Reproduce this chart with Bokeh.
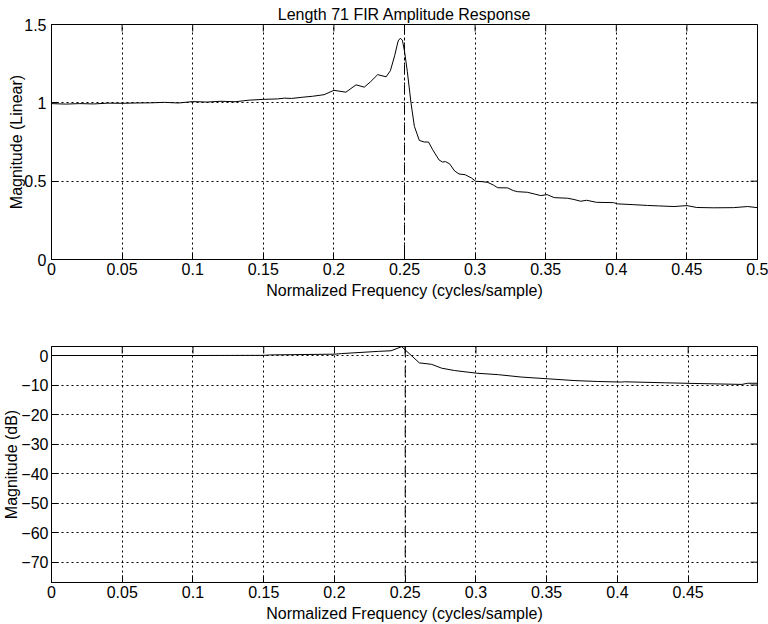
import math
from bokeh.plotting import figure
from bokeh.layouts import column
from bokeh.models import FixedTicker, Span, Range1d
from bokeh.embed import file_html
from bokeh.resources import INLINE

# ---------------- data ----------------
title_text = "Length 71 FIR Amplitude Response"
xlabel = "Normalized Frequency (cycles/sample)"
ylabel_top = "Magnitude (Linear)"
ylabel_bot = "Magnitude (dB)"

freq_lin = [0.000, 0.010, 0.020, 0.030, 0.040, 0.050, 0.060, 0.070, 0.080, 0.090,
            0.100, 0.110, 0.120, 0.130, 0.140, 0.150, 0.160, 0.165, 0.170, 0.178,
            0.185, 0.193, 0.200, 0.2085, 0.2157, 0.2215, 0.226, 0.231, 0.237, 0.240,
            0.243, 0.2455, 0.247, 0.2485, 0.250, 0.252, 0.2546, 0.257, 0.2605, 0.264,
            0.267, 0.270, 0.2745, 0.277, 0.279, 0.282, 0.2855, 0.2886, 0.293, 0.2975,
            0.3005, 0.305, 0.309, 0.313, 0.316, 0.323, 0.327, 0.330, 0.337, 0.342,
            0.3465, 0.351, 0.356, 0.3655, 0.370, 0.3748, 0.379, 0.386, 0.398, 0.401,
            0.412, 0.422, 0.430, 0.4408, 0.450, 0.457, 0.469, 0.483, 0.493, 0.500]
mag_lin = [0.995, 0.992, 0.995, 0.993, 0.998, 0.997, 0.999, 1.000, 1.003, 0.999,
           1.008, 1.005, 1.010, 1.007, 1.017, 1.022, 1.025, 1.030, 1.028, 1.036,
           1.042, 1.052, 1.080, 1.068, 1.115, 1.100, 1.135, 1.180, 1.166, 1.205,
           1.300, 1.395, 1.412, 1.400, 1.330, 1.200, 1.000, 0.850, 0.760, 0.750,
           0.750, 0.700, 0.635, 0.622, 0.625, 0.610, 0.565, 0.546, 0.541, 0.520,
           0.499, 0.497, 0.492, 0.475, 0.458, 0.457, 0.440, 0.433, 0.429, 0.418,
           0.408, 0.414, 0.395, 0.391, 0.383, 0.372, 0.378, 0.365, 0.363, 0.355,
           0.350, 0.345, 0.342, 0.338, 0.344, 0.332, 0.330, 0.331, 0.338, 0.331]

freq_db = [0.000, 0.050, 0.100, 0.150, 0.155, 0.200, 0.205, 0.231, 0.240, 0.2475,
           0.260, 0.2687, 0.2758, 0.285, 0.3005, 0.316, 0.332, 0.351, 0.370, 0.386,
           0.403, 0.405, 0.434, 0.457, 0.488, 0.492, 0.499]
mag_db = [0.00, 0.00, 0.00, 0.05, 0.20, 0.45, 0.65, 1.40, 1.60, 3.00,
          -2.5, -3.0, -4.3, -5.1, -6.0, -6.5, -7.3, -7.9, -8.5, -8.8,
          -9.0, -8.9, -9.25, -9.5, -9.8, -9.4, -9.4]

cutoff = 0.25

x_ticks = [0, 0.05, 0.1, 0.15, 0.2, 0.25, 0.3, 0.35, 0.4, 0.45, 0.5]
x_tick_labels = ["0", "0.05", "0.1", "0.15", "0.2", "0.25", "0.3", "0.35", "0.4", "0.45", "0.5"]
y_ticks_top = [0, 0.5, 1, 1.5]
y_tick_labels_top = ["0", "0.5", "1", "1.5"]
y_ticks_bot = [0, -10, -20, -30, -40, -50, -60, -70]
y_tick_labels_bot = ["0", "\u221210", "\u221220", "\u221230", "\u221240", "\u221250", "\u221260", "\u221270"]

x_range_top = (0, 0.5)
y_range_top = (0, 1.5)
x_range_bot = (0, 0.499)
y_range_bot = (-76.9, 3.05)

FONT = "Liberation Sans"
FS = "16px"
TICK = 7


def style(p, xr, yr, xt, xtl, yt, ytl, ylab, ylab_standoff, ylbl_standoff):
    xtick = FixedTicker(ticks=xt)
    ytick = FixedTicker(ticks=yt)
    p.xaxis.ticker = xtick
    p.yaxis.ticker = ytick
    p.xaxis.major_label_overrides = dict(zip(xt, xtl))
    p.yaxis.major_label_overrides = dict(zip(yt, ytl))
    for ax in (p.xaxis[0], p.yaxis[0]):
        ax.major_tick_in = TICK
        ax.major_tick_out = 0
        ax.minor_tick_in = 0
        ax.minor_tick_out = 0
        ax.axis_line_color = "black"
        ax.major_tick_line_color = "black"
        ax.major_label_text_font = FONT
        ax.major_label_text_font_size = FS
        ax.major_label_text_color = "black"
        ax.axis_label_text_font = FONT
        ax.axis_label_text_font_size = FS
        ax.axis_label_text_font_style = "normal"
        ax.axis_label_text_color = "black"
        ax.axis_label_text_line_height = 1.0
    p.xaxis.major_label_standoff = 3
    p.yaxis.major_label_standoff = ylbl_standoff
    p.xaxis.axis_label = xlabel
    p.xaxis.axis_label_standoff = 4
    p.yaxis.axis_label = ylab
    p.yaxis.axis_label_standoff = ylab_standoff
    for g in (p.xgrid[0], p.ygrid[0]):
        g.grid_line_color = "black"
        g.grid_line_dash = "2 3"
        g.grid_line_width = 1
    p.outline_line_color = "black"
    p.outline_line_alpha = 1
    # inward ticks on the top and right edges (markers clipped by the frame)
    p.scatter(x=xt, y=[yr[1]] * len(xt), marker="dash", angle=math.pi / 2,
              size=2 * TICK, line_color="black", line_width=1)
    p.scatter(x=[xr[1]] * len(yt), y=yt, marker="dash",
              size=2 * TICK, line_color="black", line_width=1)
    p.add_layout(Span(location=cutoff, dimension="height", line_color="black",
                      line_dash="10 4 2 4", line_width=1))


p1 = figure(width=768, height=310, output_backend="svg", toolbar_location=None,
            x_range=Range1d(*x_range_top), y_range=Range1d(*y_range_top),
            min_border_left=51, min_border_right=11, min_border_top=24, min_border_bottom=51,
            background_fill_color="white", border_fill_color="white")
p1.title.text = title_text
p1.title.align = "center"
p1.title.vertical_align = "top"
p1.title.text_font = FONT
p1.title.text_font_size = FS
p1.title.text_font_style = "normal"
p1.title.text_color = "black"
p1.title.standoff = 0
p1.title.text_line_height = 1.0
style(p1, x_range_top, y_range_top, x_ticks, x_tick_labels,
      y_ticks_top, y_tick_labels_top, ylabel_top, -4, 5)
p1.line(freq_lin, mag_lin, line_color="black", line_width=1)

p2 = figure(width=768, height=314, output_backend="svg", toolbar_location=None,
            x_range=Range1d(*x_range_bot), y_range=Range1d(*y_range_bot),
            min_border_left=51, min_border_right=11, min_border_top=36, min_border_bottom=42,
            background_fill_color="white", border_fill_color="white")
style(p2, x_range_bot, y_range_bot, x_ticks[:-1], x_tick_labels[:-1],
      y_ticks_bot, y_tick_labels_bot, ylabel_bot, -2, 3)
p2.line(freq_db, mag_db, line_color="black", line_width=1)

layout = column(p1, p2, spacing=0)
open("out.html", "w").write(file_html(layout, INLINE))
